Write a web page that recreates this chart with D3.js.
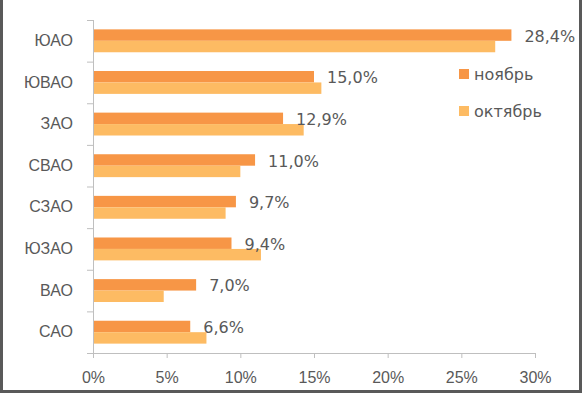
<!DOCTYPE html>
<html>
<head>
<meta charset="utf-8">
<script src="https://cdn.jsdelivr.net/npm/d3@7"></script>
<style>
    body { margin: 0; background: #fff; }
    svg { display: block; font-family: "DejaVu Sans", Verdana, sans-serif; }
    .axis text { fill: #595959; font-size: 16px; }
    .axis path, .axis line { stroke: #bfbfbf; }
</style>
</head>
<body>
<svg width="582" height="393"></svg>
<script>
// districts, top to bottom
const districts = ["ЮАО", "ЮВАО", "ЗАО", "СВАО", "СЗАО", "ЮЗАО", "ВАО", "САО"];
const november = [28.4, 15.0, 12.9, 11.0, 9.7, 9.4, 7.0, 6.6];
const october = [27.3, 15.5, 14.3, 10.0, 9.0, 11.4, 4.8, 7.7];
const seriesNames = ["ноябрь", "октябрь"];
const xTicks = [0, 5, 10, 15, 20, 25, 30];

const colors = ["#f79646", "#fdbb63"];

const svg = d3.select("svg");
const plotL = 93, plotR = 535, plotT = 20, plotB = 353;

const ru = d3.formatLocale({ decimal: ",", thousands: " ", grouping: [3], currency: ["", " ₽"] });
const fmtVal = ru.format(".1f");

const x = d3.scaleLinear().domain([0, 30]).range([plotL, plotR]);
const y0 = d3.scaleBand().domain(districts).range([plotT, plotB])
    .paddingInner(0.45).paddingOuter(0.225);
const y1 = d3.scaleBand().domain(seriesNames).range([0, y0.bandwidth()]);
// category boundaries for the tick marks
const yb = d3.scaleLinear().domain([0, districts.length]).range([plotT, plotB]);

// frame (left, right, bottom edges)
svg.append("path")
   .attr("d", "M1.5,0 V391.5 H580.5 V0")
   .attr("fill", "none")
   .attr("stroke", "#595959")
   .attr("stroke-width", 3);

const rows = districts.map((d, i) => ({ d, vals: [november[i], october[i]] }));

const g = svg.append("g").selectAll("g")
   .data(rows)
   .join("g")
   .attr("transform", r => `translate(0,${y0(r.d)})`);

g.selectAll("rect")
   .data(r => r.vals.map((v, k) => ({ v, k })))
   .join("rect")
   .attr("x", x(0))
   .attr("y", p => y1(seriesNames[p.k]))
   .attr("width", p => x(p.v) - x(0))
   .attr("height", y1.bandwidth())
   .attr("fill", p => colors[p.k]);

g.append("text")
   .attr("x", r => x(r.vals[0]) + 13)
   .attr("y", y1(seriesNames[0]) + y1.bandwidth() / 2 + 1)
   .attr("dy", "0.35em")
   .attr("fill", "#595959")
   .attr("font-size", 16)
   .text(r => fmtVal(r.vals[0]) + "%");

// axes
svg.append("g")
   .attr("class", "axis")
   .attr("transform", `translate(0,${plotB})`)
   .call(d3.axisBottom(x).tickValues(xTicks).tickFormat(v => v + "%")
       .tickSize(5).tickPadding(14).tickSizeOuter(0))
   .call(a => a.select(".domain").attr("d", `M${plotL},0.5H${plotR}`));

svg.append("g")
   .attr("class", "axis")
   .attr("transform", `translate(${plotL},0)`)
   .call(d3.axisLeft(yb).ticks(districts.length).tickFormat("").tickSize(6).tickSizeOuter(0))
   .call(a => a.select(".domain").attr("d", `M0.5,${plotT}V${plotB}`));

svg.append("g")
   .attr("class", "axis")
   .attr("transform", `translate(${plotL},0)`)
   .call(d3.axisLeft(y0).tickSize(0).tickPadding(20))
   .call(a => a.select(".domain").remove());

// legend
const legend = svg.append("g").selectAll("g")
   .data(seriesNames)
   .join("g")
   .attr("transform", (s, i) => `translate(459,${74 + i * 37})`);

legend.append("rect")
   .attr("x", 0).attr("y", -5)
   .attr("width", 10).attr("height", 10)
   .attr("fill", (s, i) => colors[i]);

legend.append("text")
   .attr("x", 15)
   .attr("dy", "0.35em")
   .attr("fill", "#595959")
   .attr("font-size", 16)
   .text(s => s);
</script>
</body>
</html>
